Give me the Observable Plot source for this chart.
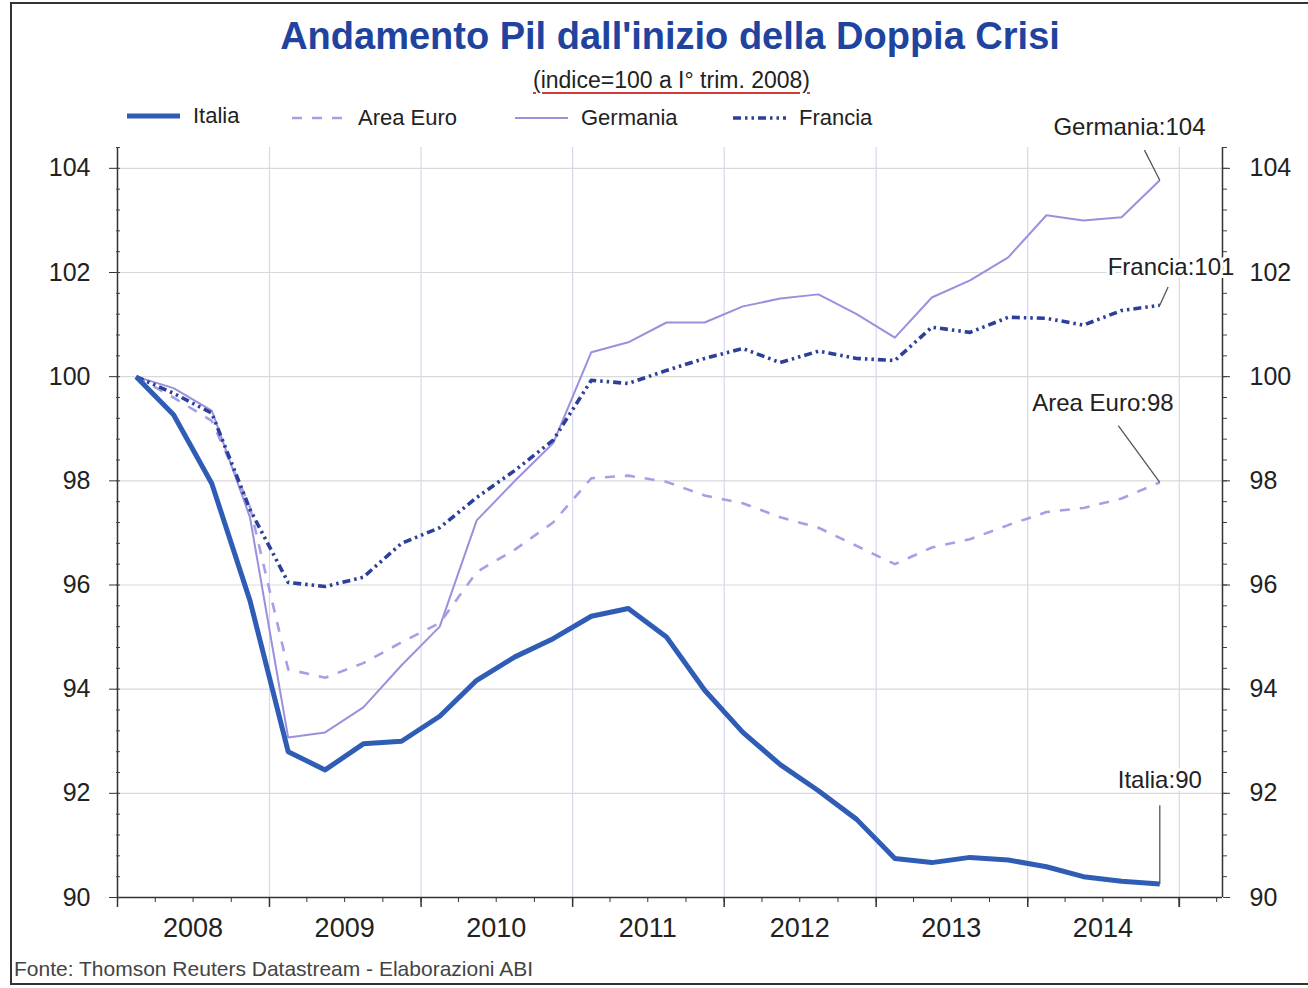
<!DOCTYPE html>
<html>
<head>
<meta charset="utf-8">
<script src="https://cdn.jsdelivr.net/npm/d3@7"></script>
<script src="https://cdn.jsdelivr.net/npm/@observablehq/plot@0.6"></script>
<style>
  body { margin: 0; background: #fff; font-family: "Liberation Sans", Arial, sans-serif; }
  #page { position: relative; width: 1308px; height: 988px; overflow: hidden; background: #fff; }
  #border { position: absolute; left: 10px; top: 2px; width: 1400px; height: 983px; border: 2px solid #333; border-right: none; box-sizing: border-box; }
  #title { position: absolute; top: 15px; left: 0; width: 1340px; text-align: center; font-weight: bold; font-size: 38px; color: #2043a0; }
  #subtitle { position: absolute; top: 67px; left: 0; width: 1343px; text-align: center; font-size: 23px; color: #222;
              text-decoration: underline; text-decoration-color: #d23c3c; text-decoration-thickness: 2px; text-underline-offset: 4px; }
  .leg { position: absolute; display: flex; align-items: center; font-size: 22px; color: #222; }
  .leg svg { margin-right: 13px; }
  #caption { position: absolute; left: 14px; top: 957px; font-size: 21px; color: #444; }
  #chart { position: absolute; left: 0; top: 100px; }
</style>
</head>
<body>
<div id="page">
  <div id="border"></div>
  <div id="title">Andamento Pil dall'inizio della Doppia Crisi</div>
  <div id="subtitle">(indice=100 a I° trim. 2008)</div>
  <div id="legend"></div>
  <div id="chart"></div>
  <div id="caption">Fonte: Thomson Reuters Datastream - Elaborazioni ABI</div>
</div>
<script>
// ---- Data (quarterly, I trim. 2008 = 100) ----
const years = [2008, 2009, 2010, 2011, 2012, 2013, 2014];
const quartersPerYear = 4;

const italia = [100, 99.27, 97.95, 95.7, 92.8, 92.45, 92.95, 93.0, 93.48, 94.17, 94.62, 94.97, 95.4, 95.55,
                95.0, 93.98, 93.17, 92.55, 92.05, 91.5, 90.75, 90.67, 90.77, 90.72, 90.59, 90.4, 90.31, 90.26];
const areaEuro = [100, 99.6, 99.15, 97.5, 94.38, 94.22, 94.5, 94.9, 95.27, 96.25, 96.68, 97.2, 98.05, 98.1,
                  97.98, 97.72, 97.57, 97.3, 97.1, 96.75, 96.4, 96.72, 96.88, 97.15, 97.4, 97.48, 97.66, 97.97];
const germania = [100, 99.78, 99.35, 97.3, 93.07, 93.17, 93.65, 94.46, 95.2, 97.24, 98.0, 98.72, 100.47, 100.66,
                  101.04, 101.04, 101.35, 101.5, 101.58, 101.2, 100.75, 101.52, 101.85, 102.29, 103.1, 103.0, 103.06, 103.77];
const francia = [100, 99.68, 99.3, 97.45, 96.05, 95.97, 96.15, 96.8, 97.1, 97.68, 98.2, 98.78, 99.93, 99.87,
                 100.12, 100.35, 100.54, 100.27, 100.49, 100.35, 100.31, 100.95, 100.85, 101.14, 101.12, 100.99, 101.27, 101.37];

const seriesNames = ["Italia", "Area Euro", "Germania", "Francia"];
const seriesValues = [italia, areaEuro, germania, francia];

const yTicks = [90, 92, 94, 96, 98, 100, 102, 104];
const xTickLabels = ["2008", "2009", "2010", "2011", "2012", "2013", "2014"];

// end labels: text and the anchor position (in data units) of text and leader line
const endLabels = [
  {name: "Germania",  text: "Germania:104",  tx: [2014, 8, 3],  ty: 104.79, lx: [2014, 9, 9],  ly: 104.35},
  {name: "Francia",   text: "Francia:101",   tx: [2014, 11, 12], ty: 102.1,  lx: [2014, 11, 5], ly: 101.72},
  {name: "Area Euro", text: "Area Euro:98",  tx: [2014, 6, 1],  ty: 99.49,  lx: [2014, 7, 7],  ly: 99.06},
  {name: "Italia",    text: "Italia:90",     tx: [2014, 10, 15], ty: 92.25,  lx: [2014, 10, 15], ly: 91.77}
];

// ---- Styles ----
const styles = {
  "Italia":    {stroke: "#2f5db6", strokeWidth: 5,   dash: null},
  "Area Euro": {stroke: "#a79fe6", strokeWidth: 2.6, dash: "10,10"},
  "Germania":  {stroke: "#9a90dc", strokeWidth: 2,   dash: null},
  "Francia":   {stroke: "#2b3f9b", strokeWidth: 3.6, dash: "8,4,2.5,4,2.5,4"}
};

// ---- Build table ----
const qDate = (y, q) => new Date(Date.UTC(y, q * 3 + 1, 15));
const quarterDates = years.flatMap(y => d3.range(quartersPerYear).map(q => qDate(y, q)));
const rows = seriesNames.flatMap((name, s) =>
  seriesValues[s].map((v, i) => ({series: name, date: quarterDates[i], value: v})));
const lastDate = quarterDates[quarterDates.length - 1];
const toDate = a => new Date(Date.UTC(a[0], a[1], a[2]));
const labelRows = endLabels.map(l => ({
  ...l,
  x1: lastDate, y1: seriesValues[seriesNames.indexOf(l.name)].at(-1),
  x2: toDate(l.lx), y2: l.ly, txd: toDate(l.tx)
}));

const xStart = new Date(Date.UTC(2008, 0, 1));
const xEnd = new Date(Date.UTC(2015, 3, 15));
const yearTicks = d3.utcYear.range(xStart, xEnd);
const gridYears = yearTicks.slice(1);
const quarterTicks = d3.utcMonth.every(3).range(xStart, xEnd);
const midYears = years.map(y => new Date(Date.UTC(y, 6, 1)));
const yMinor = d3.range(90, 104.4, 0.4);

const drawOrder = ["Germania", "Area Euro", "Francia", "Italia"];

const chart = Plot.plot({
  width: 1308,
  height: 860,
  marginLeft: 117,
  marginRight: 86,
  marginTop: 47,
  marginBottom: 63,
  x: {type: "utc", domain: [xStart, xEnd]},
  y: {domain: [90, 104.4]},
  style: {fontFamily: "'Liberation Sans', Arial, sans-serif", color: "#222", background: "transparent", overflow: "visible"},
  marks: [
    Plot.gridY({ticks: yTicks.slice(1), stroke: "#d9d9d9", strokeOpacity: 1, strokeWidth: 1.2}),
    Plot.gridX({ticks: gridYears, stroke: "#d9d7ef", strokeOpacity: 1, strokeWidth: 1.2}),
    ...drawOrder.map(name => Plot.line(rows.filter(r => r.series === name), {
      x: "date", y: "value",
      stroke: styles[name].stroke, strokeWidth: styles[name].strokeWidth,
      strokeDasharray: styles[name].dash, strokeLinejoin: "round", strokeLinecap: "butt"
    })),
    Plot.ruleY([90], {stroke: "#333", strokeWidth: 1.5}),
    Plot.ruleX([xStart, xEnd], {stroke: "#333", strokeWidth: 1.5}),
    Plot.axisY({ticks: yTicks, anchor: "left", tickSize: 8, tickPadding: 19, fontSize: 25, label: null, stroke: "#333"}),
    Plot.axisY({ticks: yTicks, anchor: "right", tickSize: 7, tickPadding: 20, fontSize: 25, label: null, stroke: "#333"}),
    Plot.axisY({ticks: yMinor, anchor: "left", tickSize: 4, dx: 3, text: null, label: null, stroke: "#444"}),
    Plot.axisY({ticks: yMinor, anchor: "right", tickSize: 4, text: null, label: null, stroke: "#444"}),
    Plot.axisX({ticks: yearTicks.concat([new Date(Date.UTC(2015, 0, 1))]), tickSize: 10, text: null, label: null, stroke: "#333", strokeWidth: 1.5}),
    Plot.axisX({ticks: quarterTicks, tickSize: 5, text: null, label: null, stroke: "#333"}),
    Plot.axisX({ticks: midYears, tickSize: 0, tickPadding: 20, fontSize: 27, tickFormat: d => xTickLabels[years.indexOf(d.getUTCFullYear())], label: null}),
    Plot.link(labelRows, {x1: "x1", y1: "y1", x2: "x2", y2: "y2", stroke: "#555", strokeWidth: 1.3}),
    Plot.text(labelRows, {x: "txd", y: "ty", text: "text", fontSize: 24, fill: "#222", stroke: "white", strokeWidth: 6, textAnchor: "middle"})
  ]
});
document.getElementById("chart").appendChild(chart);

// ---- Legend ----
const legendPos = {"Italia": [127, 103], "Area Euro": [292, 105], "Germania": [515, 105], "Francia": [733, 105]};
const legend = document.getElementById("legend");
seriesNames.forEach(name => {
  const s = styles[name];
  const div = document.createElement("div");
  div.className = "leg";
  div.style.left = legendPos[name][0] + "px";
  div.style.top = legendPos[name][1] + "px";
  div.innerHTML = `<svg width="53" height="12"><line x1="0" x2="53" y1="6" y2="6" stroke="${s.stroke}" stroke-width="${s.strokeWidth}" ${s.dash ? `stroke-dasharray="${s.dash}"` : ""}/></svg><span>${name}</span>`;
  legend.appendChild(div);
});
</script>
</body>
</html>
